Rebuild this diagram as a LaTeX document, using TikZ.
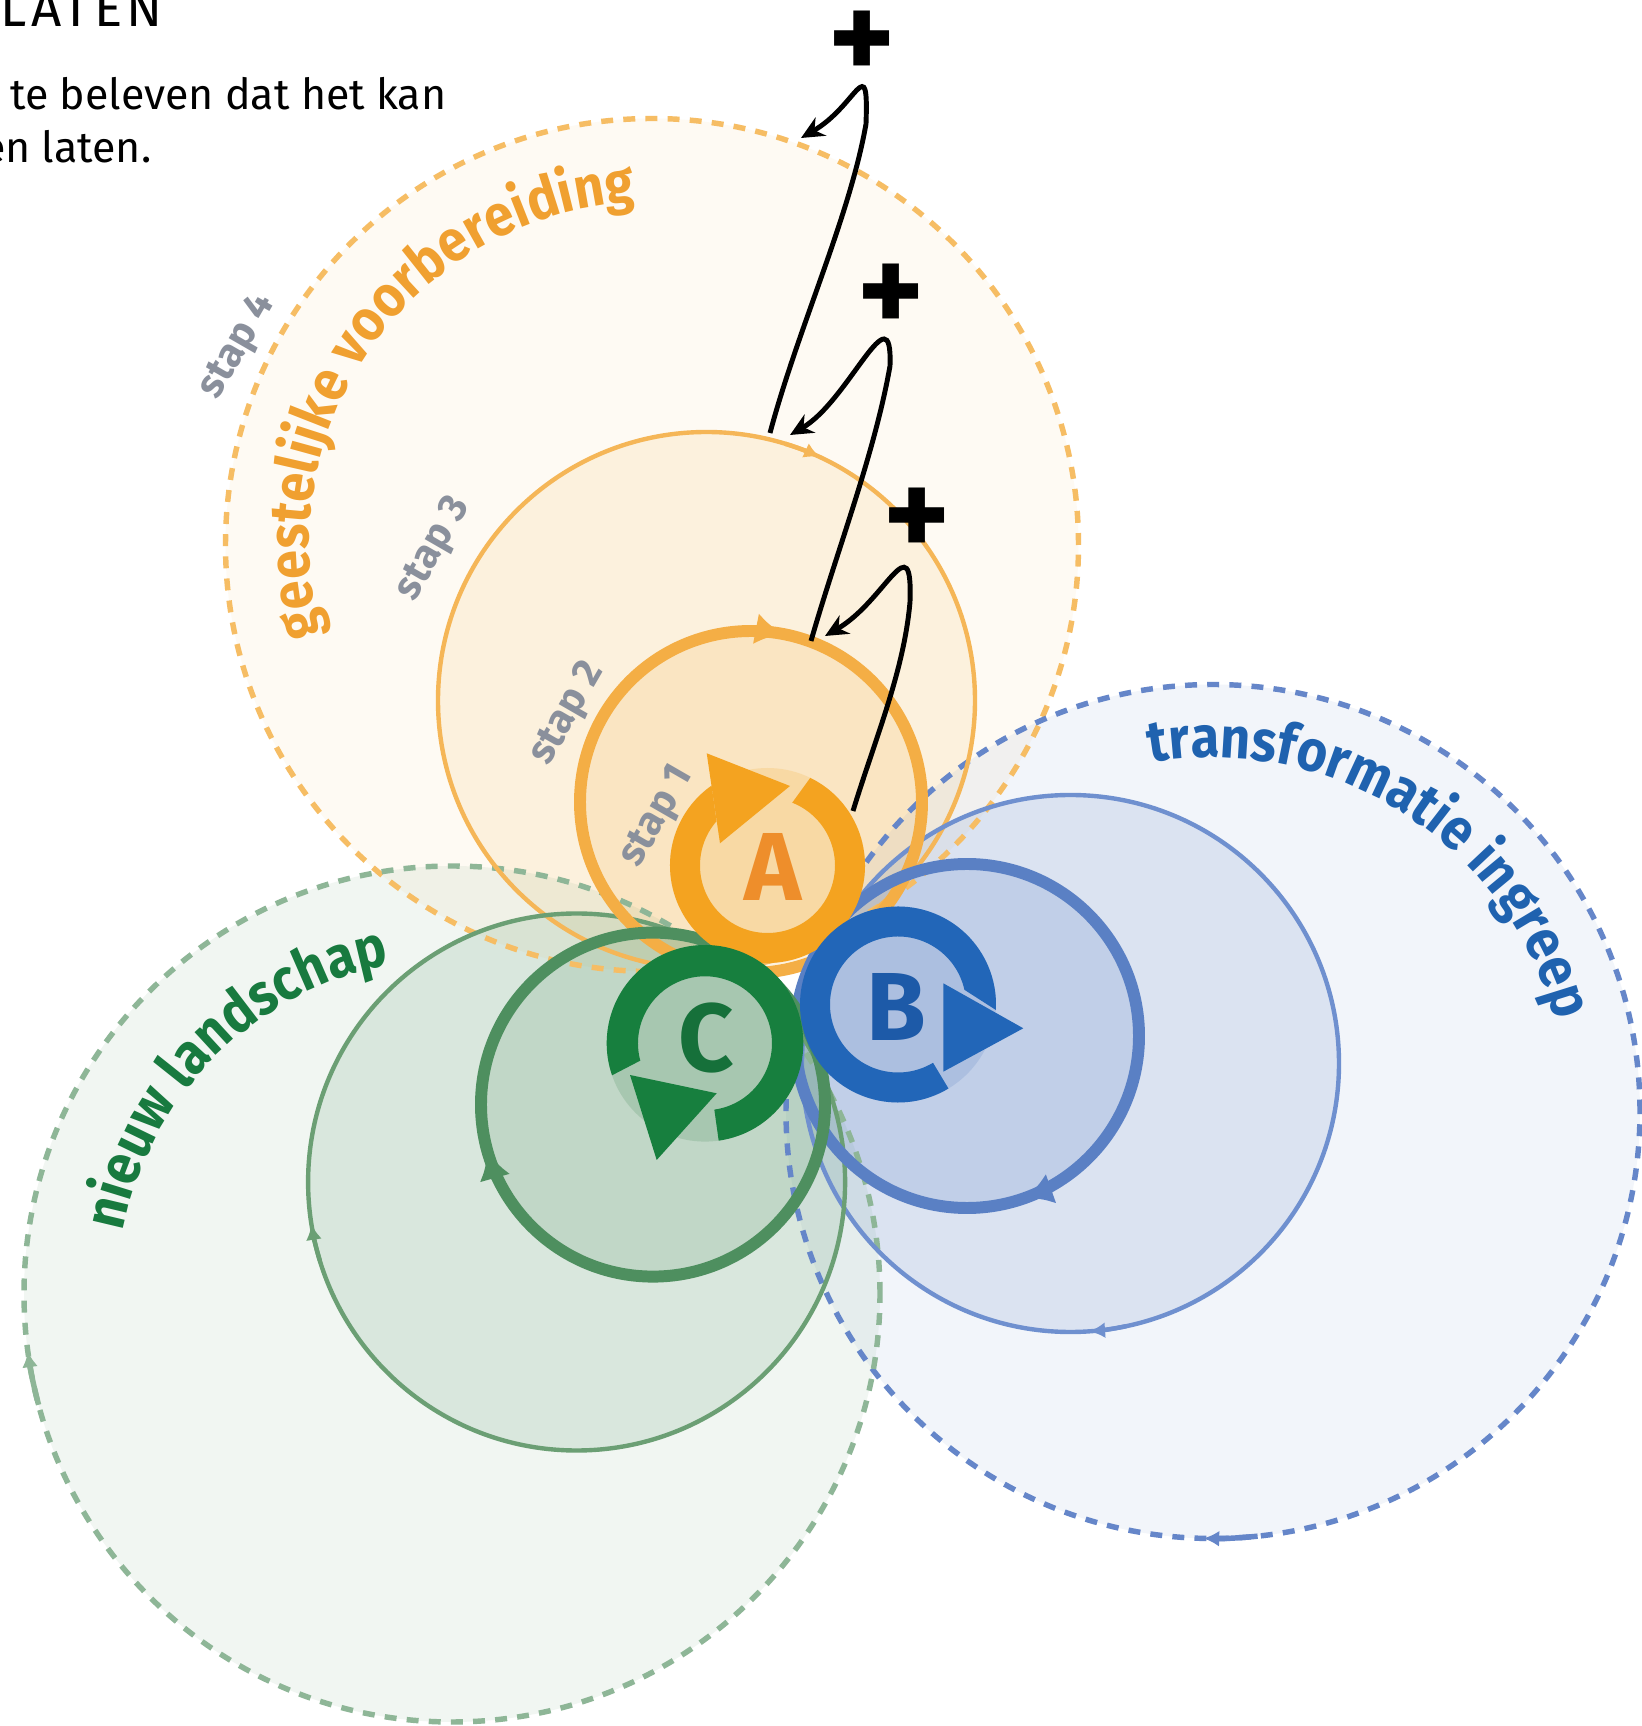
\documentclass[tikz,border=0pt]{standalone}
\usepackage{fontspec}
\setmainfont{Fira Sans}
\newfontfamily\labelfamily[FakeStretch=0.9]{Fira Sans}
\usetikzlibrary{arrows.meta,decorations.text}

\definecolor{orangeA}{HTML}{F4A320}
\definecolor{orange2}{HTML}{F4AE45}
\definecolor{orange3}{HTML}{F5B657}
\definecolor{orange4}{HTML}{F6BD64}
\definecolor{letterA}{HTML}{EE8E2B}
\definecolor{labelO}{HTML}{F0A030}
\definecolor{blueB}{HTML}{2266B8}
\definecolor{blue2}{HTML}{5A80C4}
\definecolor{blue3}{HTML}{6F90CF}
\definecolor{blue4}{HTML}{6586C9}
\definecolor{letterB}{HTML}{1D5AA8}
\definecolor{labelB}{HTML}{1F62AF}
\definecolor{greenC}{HTML}{177F3E}
\definecolor{green2}{HTML}{4E8F5F}
\definecolor{green3}{HTML}{6B9F74}
\definecolor{green4}{HTML}{8EB697}
\definecolor{letterC}{HTML}{16703A}
\definecolor{labelG}{HTML}{187A3F}
\definecolor{stapgray}{HTML}{8A909C}

\newcommand{\labelfont}{\labelfamily\fontsize{16.5}{19}\selectfont\bfseries}

\begin{document}
\begin{tikzpicture}[x=0.01cm, y=0.01cm, >={Stealth[length=6.5pt,width=6pt]},
       dashring/.style={line width=1.55pt, dash pattern=on 3.4pt off 2.9pt},
       thinring/.style={line width=1.25pt},
       thickring/.style={line width=3.4pt},
       smallhead/.style={-{Latex[length=4.5pt,width=4.5pt]}},
       bighead/.style={-{Latex[length=8pt,width=9pt]}},
       stap/.style={text=stapgray, font=\fontsize{11.5}{12}\selectfont\bfseries, rotate=60, inner sep=0pt},
       letter/.style={font=\fontsize{27.5}{27.5}\selectfont\bfseries, inner sep=0pt},
       plus/.style={font=\fontsize{36}{36}\selectfont\bfseries, inner sep=0pt},
       hook/.style={->, line width=1.4pt}]
       \fill[white] (0,0) rectangle (1642,1726);
       \useasboundingbox (0,0) rectangle (1642,1726);

       % Centres
       \coordinate (a) at (767.5,860.5);
       \coordinate (o2) at (751,924);
       \coordinate (o3) at (706.5,1025.5);
       \coordinate (o4) at (652,1181);
       \coordinate (b) at (898,721.5);
       \coordinate (b2) at (967,690);
       \coordinate (b3) at (1070.5,662.5);
       \coordinate (b4) at (1213,614.5);
       \coordinate (c) at (705,682.7);
       \coordinate (g2) at (653,621.4);
       \coordinate (g3) at (576.6,544);
       \coordinate (g4) at (452,432);

       % Tinted discs
       \foreach \p/\r/\o in {o4/426.5/.05, o3/268.5/.10, o2/171/.143, a/97.5/.18}
           \fill[orangeA, fill opacity=\o] (\p) circle[radius=\r];
       \foreach \p/\r/\o in {b4/427/.073, b3/268.5/.148, b2/172/.196, b/98/.197}
           \fill[blue2, fill opacity=\o] (\p) circle[radius=\r];
       \foreach \p/\r/\o in {g4/428/.08, g3/268.5/.141, g2/172/.171, c/98.3/.221}
           \fill[green2, fill opacity=\o] (\p) circle[radius=\r];

       % Circles
       \foreach \p/\r/\col in {o4/426.5/orange4, b4/427/blue4, g4/428/green4}
           \draw[dashring, \col] (\p) circle[radius=\r];
       \foreach \p/\r/\col in {o3/268.5/orange3, b3/268.5/blue3, g3/268.5/green3}
           \draw[thinring, \col] (\p) circle[radius=\r];
       \foreach \p/\r/\col in {o2/171/orange2, b2/172/blue2, g2/172/green2}
           \draw[thickring, \col] (\p) circle[radius=\r];

       % Direction marks
       \foreach \p/\r/\s/\e/\col in {o3/268.5/73/65/orange3, b3/268.5/-78/-86/blue3, g3/268.5/197/189/green3}
           \draw[thinring, smallhead, \col, shift={(\p)}] (\s:\r) arc[start angle=\s, end angle=\e, radius=\r];
       \foreach \p/\r/\s/\e/\col in {b4/427/-84/-91.3/blue4, g4/428/195/187.7/green4}
           \draw[dashring, solid, smallhead, \col, shift={(\p)}] (\s:\r) arc[start angle=\s, end angle=\e, radius=\r];
       \foreach \p/\r/\s/\e/\col in {o2/171/88/79/orange2, b2/172/-61/-70.5/blue2, g2/172/205/195.6/green2}
           \draw[thickring, bighead, \col, shift={(\p)}] (\s:\r) arc[start angle=\s, end angle=\e, radius=\r];

       % Rings A, B, C
       \fill[orangeA, shift={(a)}] (64:97.5) arc[start angle=64, end angle=-235, radius=97.5]
           -- (-221:67.5) arc[start angle=-221, end angle=68.5, radius=67.5] -- cycle;
       \fill[orangeA, shift={(a)}] (-60.8,112.2) -- (22.5,79.5) -- (-47.5,22.2) -- cycle;
       \fill[blueB, shift={(b)}] (-59:98) arc[start angle=-59, end angle=-363.2, radius=98]
           -- (-347.5:68) arc[start angle=-347.5, end angle=-59, radius=68] -- cycle;
       \fill[blueB, shift={(b)}] (45.3,21.2) -- (125.3,-23.8) -- (45.3,-67.2) -- cycle;
       \fill[greenC, shift={(c)}] (-82:98.3) arc[start angle=-82, end angle=199, radius=98.3]
           -- (195:67) arc[start angle=195, end angle=-82, radius=67] -- cycle;
       \fill[greenC, shift={(c)}] (-75,-31.7) -- (11.7,-50) -- (-48.3,-116.7) -- cycle;
       \node[letter, text=letterA] (la) at (773,859) {A};
       \node[letter, text=letterB] (lb) at (896,719) {B};
       \node[letter, text=letterC] (lc) at (706,688) {C};

       % Labels
       \path[decorate, decoration={text along path, text align=center, text color=labelO,
           text={|\labelfont|geestelijke voorbereiding}}, shift={(o4)}]
           (214:343) arc[start angle=214, end angle=74, radius=343];
       \path[decorate, decoration={text along path, text align=center, text color=labelB,
           text={|\labelfont|transformatie ingreep}}, shift={(b4)}]
           (127.5:354) arc[start angle=127.5, end angle=-12.5, radius=354];
       \path[decorate, decoration={text along path, text align=center, text color=labelG,
           text={|\labelfont|nieuw landschap}}, shift={(g4)}]
           (205:335) arc[start angle=205, end angle=65, radius=335];
       \node[stap] (stap4) at (238,1379) {stap 4};
       \node[stap] (stap3) at (434,1177) {stap 3};
       \node[stap] (stap2) at (568,1012) {stap 2};
       \node[stap] (stap1) at (658,909) {stap 1};

       % Hooks
       \coordinate (s1) at (853,915);  \coordinate (k1) at (910,1124);  \coordinate (t1) at (825,1090);
       \coordinate (s2) at (811,1085); \coordinate (k2) at (890,1360);  \coordinate (t2) at (790,1291);
       \coordinate (s3) at (770,1293); \coordinate (k3) at (866,1602);  \coordinate (t3) at (801,1588);
       \draw[hook] (s1) .. controls +(73:75) and +(-95:70) .. (k1) .. controls +(88:80) and +(30:70) .. (t1);
       \draw[hook] (s2) .. controls +(74:95) and +(-100:90) .. (k2) .. controls +(88:78) and +(30:68) .. (t2);
       \draw[hook] (s3) .. controls +(75:110) and +(-100:95) .. (k3) .. controls +(88:75) and +(30:65) .. (t3);
       \node[plus] (plus1) at (917,1203) {+};
       \node[plus] (plus2) at (891,1427) {+};
       \node[plus] (plus3) at (862,1680) {+};

       % Text
       \node[anchor=base west, inner sep=0pt, font=\fontsize{15}{15}\selectfont\addfontfeature{LetterSpace=8}] (titel) at (0,1699) {LATEN};
       \node[anchor=base east, inner sep=0pt, font=\fontsize{12.2}{13}\selectfont] (regel1) at (447,1616) {te beleven dat het kan};
       \node[anchor=base east, inner sep=0pt, font=\fontsize{12.2}{13}\selectfont] (regel2) at (152,1563) {en laten.};
\end{tikzpicture}
\end{document}
